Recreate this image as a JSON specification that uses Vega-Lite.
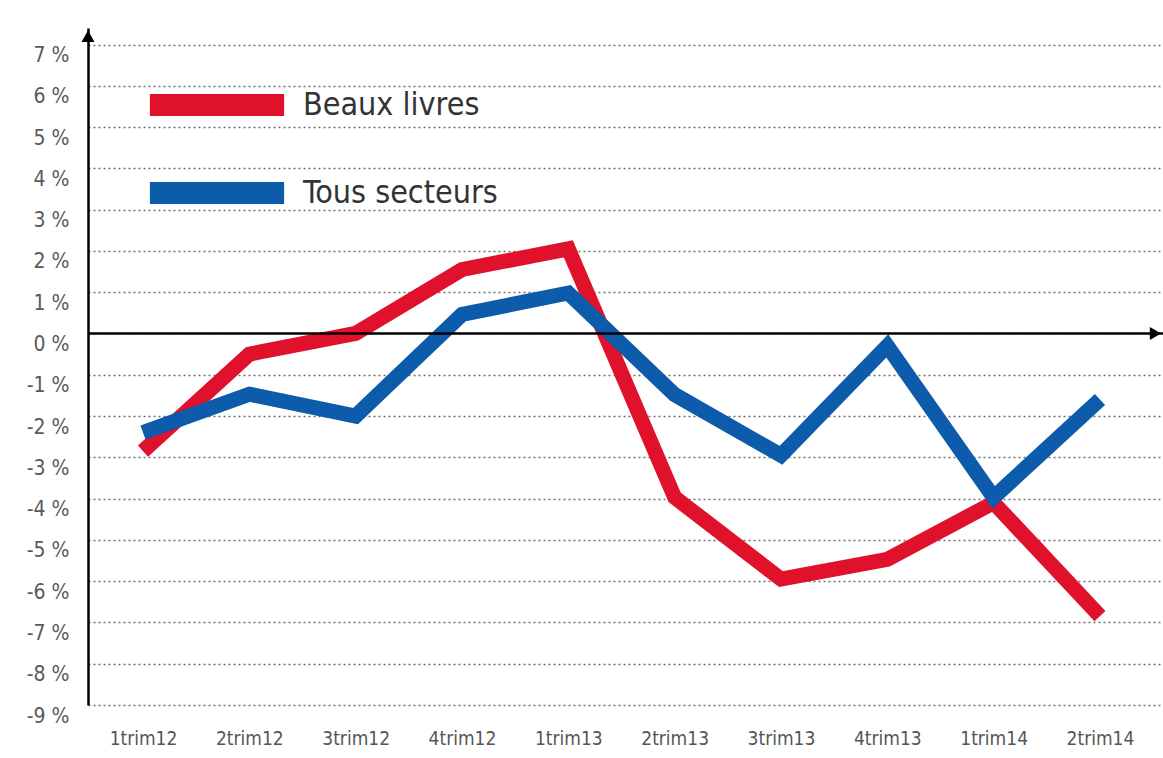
{
  "$schema": "https://vega.github.io/schema/vega-lite/v6.json",
  "width": 1075,
  "height": 677,
  "autosize": {"type": "none"},
  "padding": {"left": 88, "top": 28, "right": 0, "bottom": 53},
  "background": "white",
  "config": {"view": {"stroke": null}, "font": "Liberation Sans Narrow, DejaVu Sans Condensed, sans-serif"},
  "data": {"values": [
    {"q": "1trim12", "s": "Beaux livres", "v": -2.85},
    {"q": "2trim12", "s": "Beaux livres", "v": -0.5},
    {"q": "3trim12", "s": "Beaux livres", "v": 0.0},
    {"q": "4trim12", "s": "Beaux livres", "v": 1.55},
    {"q": "1trim13", "s": "Beaux livres", "v": 2.05},
    {"q": "2trim13", "s": "Beaux livres", "v": -3.97},
    {"q": "3trim13", "s": "Beaux livres", "v": -5.95},
    {"q": "4trim13", "s": "Beaux livres", "v": -5.47},
    {"q": "1trim14", "s": "Beaux livres", "v": -4.1},
    {"q": "2trim14", "s": "Beaux livres", "v": -6.85},
    {"q": "1trim12", "s": "Tous secteurs", "v": -2.4},
    {"q": "2trim12", "s": "Tous secteurs", "v": -1.47},
    {"q": "3trim12", "s": "Tous secteurs", "v": -2.0},
    {"q": "4trim12", "s": "Tous secteurs", "v": 0.46},
    {"q": "1trim13", "s": "Tous secteurs", "v": 0.98},
    {"q": "2trim13", "s": "Tous secteurs", "v": -1.48},
    {"q": "3trim13", "s": "Tous secteurs", "v": -2.95},
    {"q": "4trim13", "s": "Tous secteurs", "v": -0.3},
    {"q": "1trim14", "s": "Tous secteurs", "v": -3.97},
    {"q": "2trim14", "s": "Tous secteurs", "v": -1.6}
  ]},
  "layer": [
    {
      "mark": {"type": "line", "strokeWidth": 15, "strokeJoin": "miter", "strokeCap": "butt"},
      "encoding": {
        "x": {"field": "q", "type": "ordinal", "sort": null,
              "scale": {"type": "point", "padding": 0.555, "align": 0.466},
              "axis": {"title": null, "domain": false, "ticks": false, "grid": false, "labelFontSize": 19, "labelColor": "#555555", "labelPadding": 24, "labelAngle": 0}},
        "y": {"field": "v", "type": "quantitative",
              "scale": {"domain": [-9, 7.4], "nice": false, "zero": false},
              "axis": {"title": null, "values": [-9, -8, -7, -6, -5, -4, -3, -2, -1, 0, 1, 2, 3, 4, 5, 6, 7],
                       "labelExpr": "datum.value + ' %'", "grid": true, "gridDash": [2, 3], "gridColor": "#6e6e6e", "gridWidth": 1.3,
                       "domainColor": "black", "domainWidth": 2.5, "ticks": false, "labelFontSize": 21, "labelColor": "#5a5a5a",
                       "labelPadding": 19, "labelBaseline": "top", "labelDy": 1}},
        "color": {"field": "s", "type": "nominal", "sort": ["Beaux livres", "Tous secteurs"],
                  "scale": {"domain": ["Beaux livres", "Tous secteurs"], "range": ["#e0112b", "#0d5bab"]},
                  "legend": {"title": null, "orient": "none", "legendX": 107, "legendY": 55, "symbolType": "M-6.1,0H6.1",
                             "symbolStrokeWidth": 22, "symbolSize": 484, "rowPadding": 0, "labelFontSize": 32,
                             "labelColor": "#333333", "labelOffset": 64, "labelLimit": 400, "padding": 0, "direction": "vertical",
                             "encode": {"symbols": {"update": {"strokeWidth": {"value": 22}}}}}}
      }
    },
    {
      "data": {"values": [{}]},
      "mark": {"type": "rule", "color": "black", "strokeWidth": 2.5},
      "encoding": {"y": {"datum": 0}}
    },
    {
      "data": {"values": [{}]},
      "mark": {"type": "point", "shape": "triangle-up", "filled": true, "color": "black", "size": 170, "opacity": 1},
      "encoding": {"x": {"datum": 0, "type": "quantitative", "scale": {"domain": [0, 1]}, "axis": null}, "y": {"datum": 7.2}}
    },
    {
      "data": {"values": [{}]},
      "mark": {"type": "point", "shape": "triangle-right", "filled": true, "color": "black", "size": 170, "opacity": 1},
      "encoding": {"x": {"datum": 0.993, "type": "quantitative", "scale": {"domain": [0, 1]}, "axis": null}, "y": {"datum": 0}}
    }
  ],
  "resolve": {"scale": {"x": "independent"}}
}
